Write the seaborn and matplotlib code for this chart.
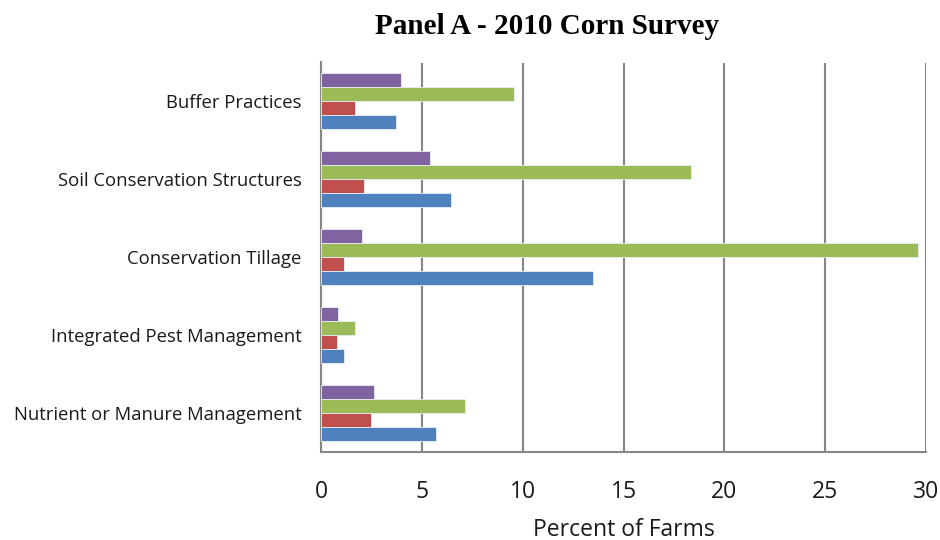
import matplotlib
matplotlib.use("Agg")
import matplotlib.pyplot as plt
import seaborn as sns
import pandas as pd
from matplotlib.ticker import FixedLocator

# Practices, listed top to bottom
practices = [
    "Buffer Practices",
    "Soil Conservation Structures",
    "Conservation Tillage",
    "Integrated Pest Management",
    "Nutrient or Manure Management",
]

# Percent of farms per series (same order as practices)
series_1 = [3.7, 6.45, 13.5, 1.15, 5.7]   # blue
series_2 = [1.7, 2.15, 1.15, 0.8, 2.5]    # red
series_3 = [9.55, 18.35, 29.6, 1.7, 7.15]  # green
series_4 = [3.95, 5.4, 2.05, 0.85, 2.65]  # purple

series_names = ["Series 1", "Series 2", "Series 3", "Series 4"]
series_values = [series_1, series_2, series_3, series_4]
series_colors = ["#4F81BD", "#C0504D", "#9BBB59", "#8064A2"]

x_ticks = [0, 5, 10, 15, 20, 25, 30]

rows = []
for name, vals in zip(series_names, series_values):
    for p, v in zip(practices, vals):
        rows.append({"Practice": p, "Series": name, "Percent": v})
df = pd.DataFrame(rows)

sns.set_theme(style="white")
plt.rcParams["font.family"] = ["Open Sans", "DejaVu Sans"]

fig = plt.figure(figsize=(9.4, 5.4), dpi=100)
ax = fig.add_axes([321 / 940, 1 - 452 / 540, (926 - 321) / 940, (452 - 62.5) / 540])

# Top of each group is the last series, so plot the series in reverse
hue_order = series_names[::-1]
palette = dict(zip(series_names, series_colors))
sns.barplot(
    data=df, y="Practice", x="Percent", hue="Series",
    order=practices, hue_order=hue_order, palette=palette,
    orient="h", width=0.72, dodge=True, saturation=1,
    edgecolor="#e8eef6", linewidth=0.6, legend=False, ax=ax, zorder=3,
)

ax.set_xlim(0, 30)
ax.set_ylim(len(practices) - 0.5, -0.5)
ax.set_xticks(x_ticks)
ax.set_xticklabels([str(t) for t in x_ticks], fontsize=16.5, color="#1a1a1a")
ax.set_xlabel("Percent of Farms", fontsize=16.5, color="#1a1a1a", labelpad=10)
ax.set_ylabel("")
ax.tick_params(axis="y", which="major", length=0, pad=14, labelsize=13.3, labelcolor="#1a1a1a")
ax.yaxis.set_minor_locator(FixedLocator([i - 0.5 for i in range(len(practices) + 1)]))
ax.tick_params(axis="y", which="minor", length=6, width=1.3, color="#868686", direction="out")
ax.tick_params(axis="x", which="major", length=6, width=1.3, color="#868686", direction="out", pad=14)

grid_color = "#868686"
ax.grid(axis="x", color=grid_color, linewidth=1.5, zorder=0)
ax.grid(axis="y", visible=False)
for side in ["top", "right"]:
    ax.spines[side].set_visible(False)
for side in ["left", "bottom"]:
    ax.spines[side].set_color(grid_color)
    ax.spines[side].set_linewidth(1.5)
ax.set_axisbelow(True)

fig.text(547 / 940, 1 - 26 / 540, "Panel A - 2010 Corn Survey",
         ha="center", va="center", fontsize=21, fontweight="bold",
         family=["Liberation Serif", "DejaVu Serif"], color="#000000")

fig.savefig("out.png", dpi=100, facecolor="white")
